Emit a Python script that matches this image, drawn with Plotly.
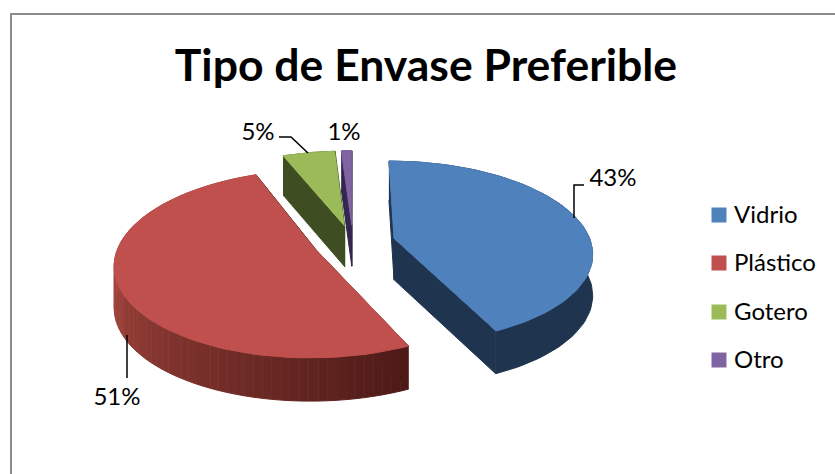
"""Exploded 3D style pie chart, drawn from the shares with a small perspective projection."""
import numpy as np
import plotly.graph_objects as go

categories = ["Vidrio", "Plástico", "Gotero", "Otro"]
values = [43, 51, 5, 1]
labels = ["43%", "51%", "5%", "1%"]
explode = [0.215, 0.2, 0.2, 0.2]
top_colors = ["#4F81BD", "#C0504D", "#9BBB59", "#8064A2"]
side_colors = ["#1F344F", "#4F1B18", "#3E4E22", "#33264F"]

# projection settings, fitted to the picture
CX, CY = 353, 243
RX, RY = 197, 90
PERSPECTIVE = 0.143
DEPTH = 41


def project(wx, wy, drop=0.0):
    s = 1 / (1 - PERSPECTIVE * wy)
    return CX + RX * wx * s, CY + RY * wy * s + DEPTH * (1 + 0.3 * (s - 1)) * drop


def wedge(start, end, pull, n=80):
    """World coords of the rim of a slice, angles clockwise from the back."""
    mid = (start + end) / 2
    ox, oy = pull * np.sin(mid), -pull * np.cos(mid)
    t = np.linspace(start, end, n)
    return ox, oy, ox + np.sin(t), oy - np.cos(t)


def poly(fig, xs, ys, color, name="", width=1):
    fig.add_trace(go.Scatter(
        x=list(xs), y=list(ys), mode="lines", fill="toself", fillcolor=color,
        line=dict(color=color, width=width), hoverinfo="skip", name=name, showlegend=False,
    ))


def mix(a, b, f):
    ca = [int(a[i:i + 2], 16) for i in (1, 3, 5)]
    cb = [int(b[i:i + 2], 16) for i in (1, 3, 5)]
    return "rgb(%d,%d,%d)" % tuple(round(p + (q - p) * f) for p, q in zip(ca, cb))


fig = go.Figure()

edges = np.cumsum([0] + values) / sum(values) * 2 * np.pi
# back slices first so the nearer ones paint over them
for i in [2, 3, 0, 1]:
    start, end = edges[i], edges[i + 1]
    ox, oy, wx, wy = wedge(start, end, explode[i])
    ax, ay = project(ox, oy)
    ax2, ay2 = project(ox, oy, 1)
    tx, ty = project(wx, wy)
    bx, by = project(wx, wy, 1)

    # flat cut faces
    poly(fig, [tx[0], ax, ax2, bx[0]], [ty[0], ay, ay2, by[0]], side_colors[i])
    poly(fig, [tx[-1], ax, ax2, bx[-1]], [ty[-1], ay, ay2, by[-1]], side_colors[i])

    # outer wall, the red one goes from dark at the front to lighter on the left
    if categories[i] == "Plástico":
        for j in range(len(tx) - 1):
            f = min(1, j / (0.6 * len(tx)))
            color = mix("#4D1A17", "#A8473F", f)
            poly(fig, [tx[j], tx[j + 1], bx[j + 1], bx[j]], [ty[j], ty[j + 1], by[j + 1], by[j]], color)
    else:
        poly(fig, np.r_[tx, bx[::-1]], np.r_[ty, by[::-1]], side_colors[i])

    poly(fig, np.r_[ax, tx], np.r_[ay, ty], top_colors[i], name=categories[i])

# leader lines
leaders = [([574, 574, 584], [218, 185, 185]), ([127, 127], [335, 378]), ([279, 291, 308], [137, 137, 153])]
for lx, ly in leaders:
    fig.add_trace(go.Scatter(x=lx, y=ly, mode="lines", line=dict(color="black", width=1.5),
                             hoverinfo="skip", showlegend=False))

# data labels
fig.add_trace(go.Scatter(
    x=[613, 117, 258, 344], y=[180, 399, 134, 134], mode="text", text=labels,
    textposition="middle center", textfont=dict(family="Lato", size=24, color="black"),
    hoverinfo="skip", showlegend=False,
))

# legend
legend_y = [215, 263, 312, 360]
fig.add_trace(go.Scatter(
    x=[719] * 4, y=legend_y, mode="markers",
    marker=dict(symbol="square", size=15, color=top_colors), hoverinfo="skip", showlegend=False,
))
fig.add_trace(go.Scatter(
    x=[734] * 4, y=[v + 2 for v in legend_y], mode="text", text=categories, textposition="middle right",
    textfont=dict(family="Lato", size=24, color="black"), hoverinfo="skip", showlegend=False,
))

# only the top and left edges of the frame are in view
fig.add_shape(type="rect", x0=11, y0=14, x1=900, y1=520, line=dict(color="#8C8C8C", width=2), layer="below")

fig.update_layout(
    width=835, height=474, margin=dict(l=0, r=0, t=0, b=0),
    paper_bgcolor="white", plot_bgcolor="white", showlegend=False,
    title=dict(text="<b>Tipo de Envase Preferible</b>", x=426 / 835, y=1 - 65 / 474,
               xanchor="center", yanchor="middle", font=dict(family="Lato", size=44.5, color="black")),
    xaxis=dict(range=[0, 835], visible=False, fixedrange=True),
    yaxis=dict(range=[474, 0], visible=False, fixedrange=True),
)

fig.write_html("out.html", config={"displayModeBar": False},
               post_script="document.body.style.margin='0';document.body.style.overflow='hidden';")
